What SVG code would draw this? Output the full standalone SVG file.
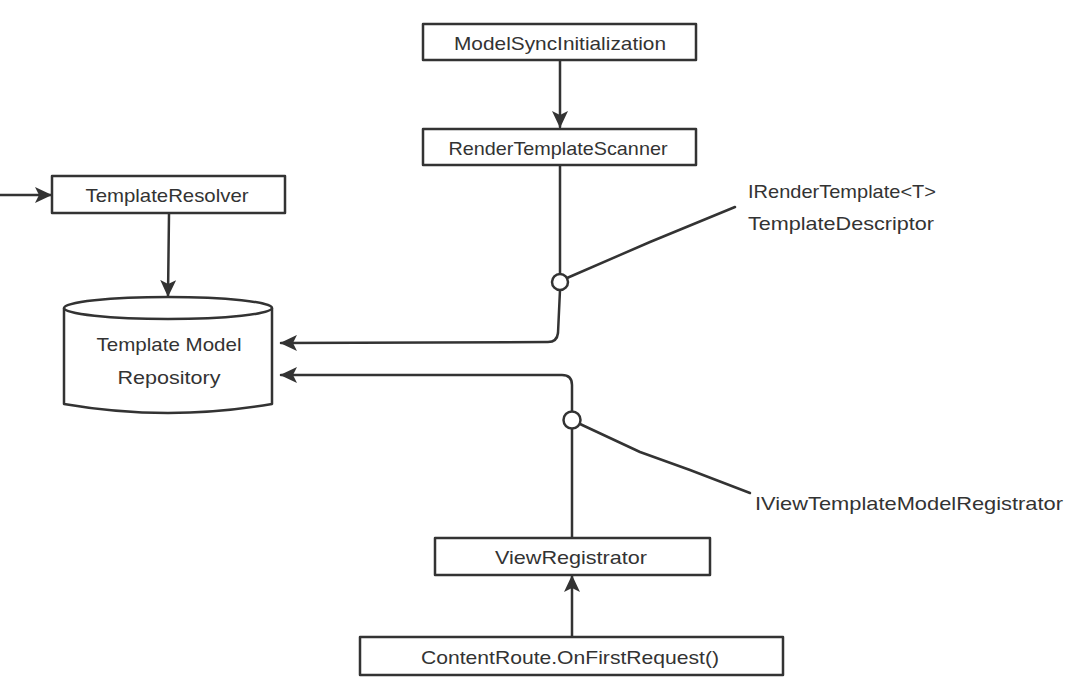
<svg xmlns="http://www.w3.org/2000/svg" width="1080" height="686" viewBox="0 0 1080 686">
<style>
.box{fill:#fff;stroke:#333;stroke-width:2.5;stroke-linejoin:round}
.ln{fill:none;stroke:#333;stroke-width:2.5;stroke-linecap:round;stroke-linejoin:round}
.t{font-family:"Liberation Sans",Arial,sans-serif;font-size:19px;fill:#333}
.c{text-anchor:middle}
</style>
<defs>
<marker id="ah" viewBox="0 0 17 16" refX="16" refY="8" markerWidth="17" markerHeight="16" markerUnits="userSpaceOnUse" orient="auto">
<path d="M0,0 L17,8 L0,16 L4,8 Z" fill="#333"/>
</marker>
</defs>
<rect width="1080" height="686" fill="#fff"/>
<g id="connectors">
<path class="ln" d="M560,61 L560,127" marker-end="url(#ah)"/>
<path class="ln" d="M0,195 L51,195" marker-end="url(#ah)"/>
<path class="ln" d="M169,214 L168,296" marker-end="url(#ah)"/>
<path class="ln" d="M560,166 L560,274 M560,290 L558,333 Q557,342 548,342 L281,343" marker-end="url(#ah)"/>
<path class="ln" d="M567,278 L650,242 L735,207"/>
<path class="ln" d="M572,537 L572,429 M572,412 L572,385 Q572,375 562,375 L281,375" marker-end="url(#ah)"/>
<path class="ln" d="M580,424 L640,452 L690,470 L750,493"/>
<path class="ln" d="M572,636 L572,576" marker-end="url(#ah)"/>
<circle cx="560" cy="282" r="8" fill="#fff" stroke="#333" stroke-width="2.5"/>
<circle cx="572" cy="420" r="8.5" fill="#fff" stroke="#333" stroke-width="2.5"/>
</g>
<g id="ModelSyncInitialization">
<rect class="box" x="423" y="24" width="273" height="36"/>
<text class="t c" x="560" y="50" textLength="212" lengthAdjust="spacingAndGlyphs">ModelSyncInitialization</text>
</g>
<g id="RenderTemplateScanner">
<rect class="box" x="423" y="129" width="273" height="36"/>
<text class="t c" x="558" y="155" textLength="219" lengthAdjust="spacingAndGlyphs">RenderTemplateScanner</text>
</g>
<g id="TemplateResolver">
<rect class="box" x="52" y="176" width="233" height="37"/>
<text class="t c" x="167" y="202" textLength="163" lengthAdjust="spacingAndGlyphs">TemplateResolver</text>
</g>
<g id="TemplateModelRepository">
<path class="box" d="M64,308 L64,404 Q168,422 272,404 L272,308"/>
<ellipse class="box" cx="168" cy="308" rx="104" ry="11"/>
<text class="t c" x="169" y="351" textLength="145" lengthAdjust="spacingAndGlyphs">Template Model</text>
<text class="t c" x="169" y="384" textLength="103" lengthAdjust="spacingAndGlyphs">Repository</text>
</g>
<g id="IRenderTemplate">
<text class="t" x="748" y="198" textLength="188" lengthAdjust="spacingAndGlyphs">IRenderTemplate&lt;T&gt;</text>
<text class="t" x="748" y="230" textLength="186" lengthAdjust="spacingAndGlyphs">TemplateDescriptor</text>
</g>
<g id="IViewTemplateModelRegistrator">
<text class="t" x="755" y="510" textLength="308" lengthAdjust="spacingAndGlyphs">IViewTemplateModelRegistrator</text>
</g>
<g id="ViewRegistrator">
<rect class="box" x="435" y="538" width="275" height="37"/>
<text class="t c" x="571" y="564" textLength="152" lengthAdjust="spacingAndGlyphs">ViewRegistrator</text>
</g>
<g id="ContentRoute">
<rect class="box" x="360" y="637" width="423" height="38"/>
<text class="t c" x="570" y="664" textLength="298" lengthAdjust="spacingAndGlyphs">ContentRoute.OnFirstRequest()</text>
</g>
</svg>
